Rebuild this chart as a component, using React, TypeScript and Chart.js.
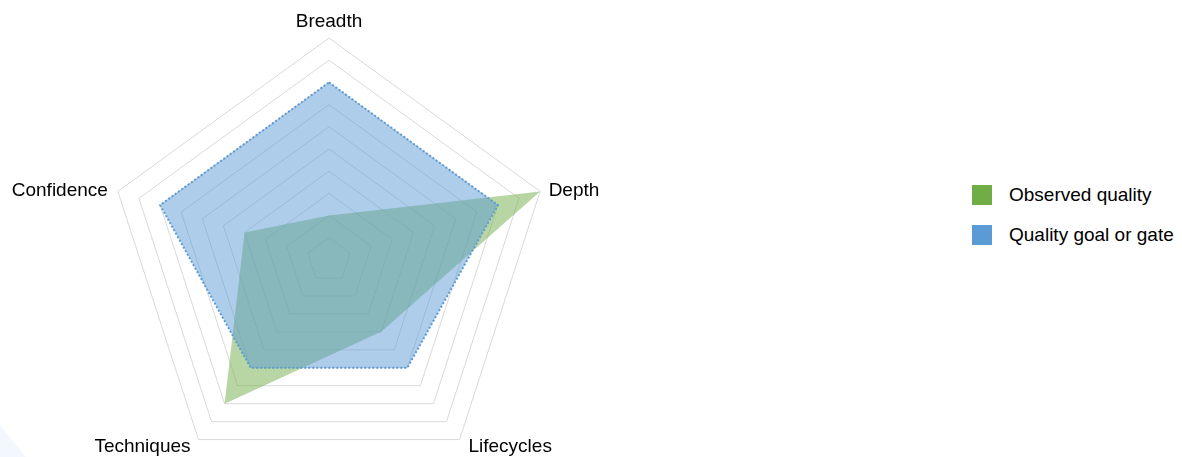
import React, { useEffect, useRef } from "react";
import { Chart, registerables } from "chart.js";

Chart.register(...registerables);

const categories = ["Breadth", "Depth", "Lifecycles", "Techniques", "Confidence"];
const observedQuality = [2, 10, 4, 8, 4];
const qualityGoal = [8, 8, 6, 6, 8];
const seriesNames = ["Observed quality", "Quality goal or gate"];
const scaleMin = 0;
const scaleMax = 10;
const scaleStep = 1;

const GREEN = "#70AD47";
const BLUE = "#5B9BD5";
const FONT = "'Liberation Sans', Arial, sans-serif";

// draws the category labels next to the outer ring vertices
const pointLabelPlugin = {
  id: "customPointLabels",
  afterDraw(chart: any) {
    const scale = chart.scales.r;
    const ctx = chart.ctx;
    ctx.save();
    ctx.font = `19px ${FONT}`;
    ctx.fillStyle = "#000";
    ctx.textBaseline = "alphabetic";
    const labels = chart.data.labels as string[];
    labels.forEach((label, i) => {
      const p = scale.getPointPosition(i, scale.drawingArea);
      const angle = scale.getIndexAngle(i);
      const s = Math.sin(angle);
      const c = Math.cos(angle);
      let x = p.x;
      let y = p.y;
      if (Math.abs(s) < 0.1) {
        ctx.textAlign = "center";
        y = p.y - 10.7;
      } else if (c > 0) {
        ctx.textAlign = s > 0 ? "left" : "right";
        x = p.x + (s > 0 ? 8.5 : -10);
        y = p.y + 5;
      } else {
        ctx.textAlign = s > 0 ? "left" : "right";
        x = p.x + (s > 0 ? 9 : -8);
        y = p.y + 12;
      }
      ctx.fillText(label, x, y);
    });
    ctx.restore();
  },
};

export default function App() {
  const canvasRef = useRef<HTMLCanvasElement | null>(null);

  useEffect(() => {
    if (!canvasRef.current) return;
    const chart = new Chart(canvasRef.current, {
      type: "radar",
      data: {
        labels: categories,
        datasets: [
          {
            label: seriesNames[1],
            data: qualityGoal,
            backgroundColor: "rgba(91,155,213,0.5)",
            borderColor: BLUE,
            borderWidth: 2,
            borderDash: [2, 2],
            pointRadius: 0,
            fill: true,
          },
          {
            label: seriesNames[0],
            data: observedQuality,
            backgroundColor: "rgba(112,173,71,0.5)",
            borderWidth: 0,
            pointRadius: 0,
            fill: true,
          },
        ],
      },
      options: {
        animation: false,
        responsive: true,
        maintainAspectRatio: false,
        layout: { padding: { top: 38, bottom: 38, left: 128, right: 128 } },
        plugins: {
          legend: { display: false },
          tooltip: { enabled: false },
        },
        scales: {
          r: {
            z: 1,
            min: scaleMin,
            max: scaleMax,
            ticks: { display: false, stepSize: scaleStep },
            grid: { color: "#d9d9d9", lineWidth: 1 },
            angleLines: { display: false },
            pointLabels: { display: false },
          },
        },
      },
      plugins: [pointLabelPlugin],
    });
    return () => chart.destroy();
  }, []);

  const legendItem = (color: string, text: string, top: number) => (
    <div
      style={{
        position: "absolute",
        left: 972,
        top,
        display: "flex",
        alignItems: "center",
        fontFamily: FONT,
        fontSize: 19,
        color: "#000",
        whiteSpace: "nowrap",
      }}
    >
      <div style={{ width: 20, height: 20, background: color, marginRight: 17 }} />
      <span>{text}</span>
    </div>
  );

  return (
    <div
      style={{
        position: "fixed",
        left: 0,
        top: 0,
        width: 1182,
        height: 457,
        overflow: "hidden",
        background: "#fff",
      }}
    >
      <div
        style={{
          position: "absolute",
          left: 0,
          bottom: 0,
          width: 40,
          height: 40,
          background: "#f3f7fe",
          clipPath: "polygon(0 20%, 65% 100%, 0 100%)",
        }}
      />
      <div style={{ position: "absolute", left: -21, top: 0, width: 700, height: 520 }}>
        <canvas ref={canvasRef} />
      </div>
      {legendItem(GREEN, seriesNames[0], 184)}
      {legendItem(BLUE, seriesNames[1], 224)}
    </div>
  );
}
